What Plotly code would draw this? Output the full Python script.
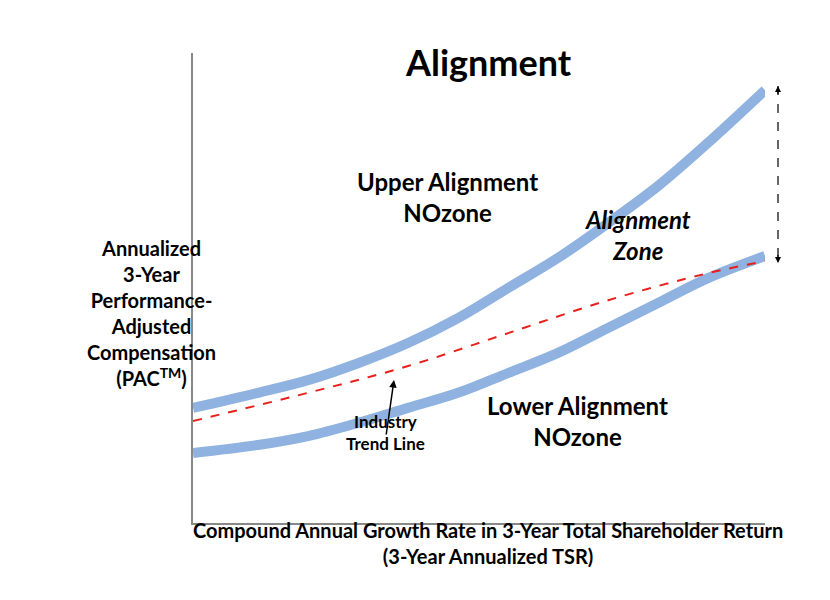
import plotly.graph_objects as go

x_px = [185, 250, 300, 350, 400, 450, 500, 550, 600, 650, 700, 757]
x_vals = [(p - 185) / 572 * 100 for p in x_px]
upper = [24.5, 27.7, 30.4, 34.0, 38.3, 43.6, 50.0, 56.4, 63.8, 71.7, 80.9, 92.1]
lower = [14.9, 16.6, 18.5, 21.3, 24.5, 27.7, 31.9, 36.2, 41.5, 46.8, 52.1, 56.8]
trend_x = [0, 20.1, 37.6, 55.1, 72.6, 90.2, 100]
trend = [21.7, 27.7, 33.4, 40.4, 47.4, 53.2, 55.7]

F = "Lato"
blue = "#8fb2e0"
fig = go.Figure()
for y in (upper, lower):
    fig.add_trace(go.Scatter(x=x_vals, y=y, mode="lines", line=dict(color=blue, width=10, shape="spline"), hoverinfo="skip"))
fig.add_trace(go.Scatter(x=trend_x, y=trend, mode="lines", line=dict(color="#e8201c", width=2, dash="dash", shape="spline"), hoverinfo="skip"))

def px(xp, yp):
    return (xp - 185) / 572, (515 - yp) / 470

ann = []
def txt(t, xp, yp, size, **kw):
    x, y = px(xp, yp)
    ann.append(dict(text=t, x=x, y=y, xref="paper", yref="paper", showarrow=False,
                    font=dict(family=F, size=size, color="black"), **kw))

txt("<b>Alignment</b>", 480, 30, 36)
txt("<b>Annualized<br>3-Year<br>Performance-<br>Adjusted<br>Compensation<br>(PAC<sup>TM</sup>)</b>", 77, 305, 20)
txt("<b>Compound Annual Growth Rate in 3-Year Total Shareholder Return<br>(3-Year Annualized TSR)</b>", 480, 562, 20)
txt("<b>Upper Alignment<br>NOzone</b>", 347, 157, 24)
txt("<b><i>Alignment<br>Zone</i></b>", 685, 227, 24)
txt("<b>Lower Alignment<br>NOzone</b>", 662, 445, 24)
txt("<b>Industry<br>Trend Line</b>", 377, 448, 17)

D = dict(xref="x domain", yref="y domain", axref="x domain", ayref="y domain", text="", showarrow=True,
         arrowhead=2, arrowcolor="black")
ax0, ay0 = px(378, 428)
ax1, ay1 = px(386, 372)
ann.append(dict(x=ax1, y=ay1, ax=ax0, ay=ay0, arrowwidth=1.5, **D))
ta, tb = px(770, 78), px(770, 255)
ann.append(dict(x=ta[0], y=ta[1], ax=ta[0], ay=ta[1] - 0.02, arrowwidth=1.2, **D))
ann.append(dict(x=tb[0], y=tb[1], ax=tb[0], ay=tb[1] + 0.02, arrowwidth=1.2, **D))

fig.add_shape(type="line", xref="paper", yref="paper", x0=ta[0], x1=tb[0], y0=ta[1], y1=tb[1],
              line=dict(color="black", width=1.2, dash="dash"))

fig.update_layout(width=830, height=600, margin=dict(l=185, r=73, t=45, b=85),
                  plot_bgcolor="white", paper_bgcolor="white", showlegend=False, annotations=ann)
fig.update_xaxes(range=[0, 100], showline=True, linecolor="#888", linewidth=1.5, showgrid=False,
                 zeroline=False, showticklabels=False, ticks="")
fig.update_yaxes(range=[0, 100], showline=True, linecolor="#888", linewidth=1.5, showgrid=False,
                 zeroline=False, showticklabels=False, ticks="")
fig.write_html("out.html")
